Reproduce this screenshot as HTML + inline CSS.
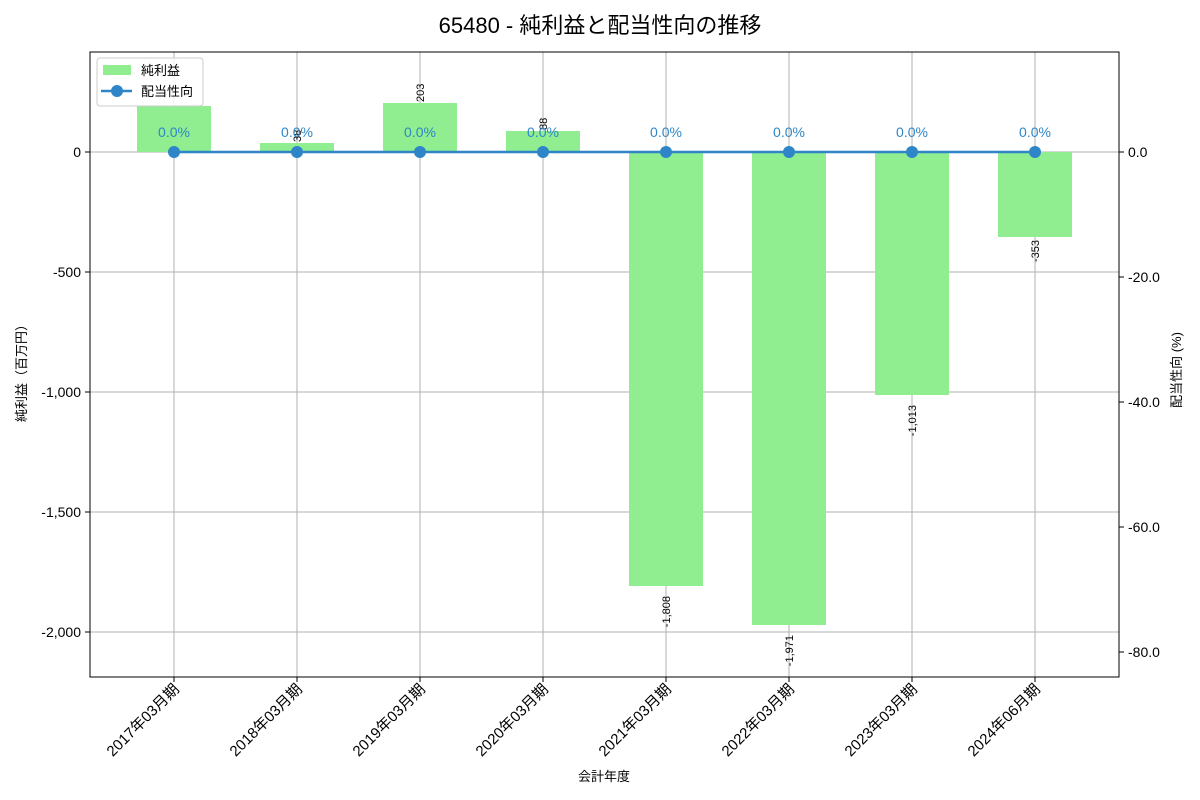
<!DOCTYPE html>
<html><head><meta charset="utf-8"><style>body{margin:0;background:#fff}svg{display:block;font-family:"Liberation Sans","Noto Sans CJK JP",sans-serif}</style></head><body>
<svg width="1200" height="800" xmlns="http://www.w3.org/2000/svg">
<text x="600" y="33" font-size="22" text-anchor="middle">65480 - 純利益と配当性向の推移</text>
<g stroke="#b0b0b0" stroke-width="1">
<line x1="174" y1="52" x2="174" y2="677"/><line x1="297" y1="52" x2="297" y2="677"/><line x1="420" y1="52" x2="420" y2="677"/><line x1="543" y1="52" x2="543" y2="677"/><line x1="666" y1="52" x2="666" y2="677"/><line x1="789" y1="52" x2="789" y2="677"/><line x1="912" y1="52" x2="912" y2="677"/><line x1="1035" y1="52" x2="1035" y2="677"/>
<line x1="90" y1="152" x2="1119" y2="152"/><line x1="90" y1="272" x2="1119" y2="272"/><line x1="90" y1="392" x2="1119" y2="392"/><line x1="90" y1="512" x2="1119" y2="512"/><line x1="90" y1="632" x2="1119" y2="632"/>
</g>
<g fill="#90ee90">
<rect x="137" y="106" width="74" height="46"/><rect x="260" y="143" width="74" height="9"/><rect x="383" y="103" width="74" height="49"/><rect x="506" y="131" width="74" height="21"/>
<rect x="629" y="152" width="74" height="434"/><rect x="752" y="152" width="74" height="473"/><rect x="875" y="152" width="74" height="243"/><rect x="998" y="152" width="74" height="85"/>
</g>
<g font-size="11" fill="#000">
<text transform="translate(301,142) rotate(-90)">38</text>
<text transform="translate(424,102) rotate(-90)">203</text>
<text transform="translate(547,130) rotate(-90)">88</text>
<text transform="translate(670,596) rotate(-90)" text-anchor="end">-1,808</text>
<text transform="translate(793,635) rotate(-90)" text-anchor="end">-1,971</text>
<text transform="translate(916,405) rotate(-90)" text-anchor="end">-1,013</text>
<text transform="translate(1039,240) rotate(-90)" text-anchor="end">-353</text>
</g>
<polyline points="174,152 1035,152" stroke="#2e86c8" stroke-width="2.5" fill="none"/>
<g fill="#2e86c8"><circle cx="174" cy="152" r="6"/><circle cx="297" cy="152" r="6"/><circle cx="420" cy="152" r="6"/><circle cx="543" cy="152" r="6"/><circle cx="666" cy="152" r="6"/><circle cx="789" cy="152" r="6"/><circle cx="912" cy="152" r="6"/><circle cx="1035" cy="152" r="6"/></g>
<g font-size="14" fill="#2e86c8" text-anchor="middle">
<text x="174" y="137">0.0%</text><text x="297" y="137">0.0%</text><text x="420" y="137">0.0%</text><text x="543" y="137">0.0%</text><text x="666" y="137">0.0%</text><text x="789" y="137">0.0%</text><text x="912" y="137">0.0%</text><text x="1035" y="137">0.0%</text>
</g>
<rect x="90" y="52" width="1029" height="625" fill="none" stroke="#000" stroke-width="1"/>
<g stroke="#000"><line x1="85" y1="152" x2="90" y2="152"/><line x1="85" y1="272" x2="90" y2="272"/><line x1="85" y1="392" x2="90" y2="392"/><line x1="85" y1="512" x2="90" y2="512"/><line x1="85" y1="632" x2="90" y2="632"/>
<line x1="1119" y1="152" x2="1124" y2="152"/><line x1="1119" y1="277" x2="1124" y2="277"/><line x1="1119" y1="402" x2="1124" y2="402"/><line x1="1119" y1="527" x2="1124" y2="527"/><line x1="1119" y1="652" x2="1124" y2="652"/>
<line x1="174" y1="677" x2="174" y2="682"/><line x1="297" y1="677" x2="297" y2="682"/><line x1="420" y1="677" x2="420" y2="682"/><line x1="543" y1="677" x2="543" y2="682"/><line x1="666" y1="677" x2="666" y2="682"/><line x1="789" y1="677" x2="789" y2="682"/><line x1="912" y1="677" x2="912" y2="682"/><line x1="1035" y1="677" x2="1035" y2="682"/></g>
<g font-size="14" text-anchor="end"><text x="81" y="157">0</text><text x="81" y="277">-500</text><text x="81" y="397">-1,000</text><text x="81" y="517">-1,500</text><text x="81" y="637">-2,000</text></g>
<g font-size="14"><text x="1128" y="157">0.0</text><text x="1128" y="282">-20.0</text><text x="1128" y="407">-40.0</text><text x="1128" y="532">-60.0</text><text x="1128" y="657">-80.0</text></g>
<g font-size="15" text-anchor="end">
<text transform="translate(180,690) rotate(-45)">2017年03月期</text><text transform="translate(303,690) rotate(-45)">2018年03月期</text><text transform="translate(426,690) rotate(-45)">2019年03月期</text><text transform="translate(549,690) rotate(-45)">2020年03月期</text><text transform="translate(672,690) rotate(-45)">2021年03月期</text><text transform="translate(795,690) rotate(-45)">2022年03月期</text><text transform="translate(918,690) rotate(-45)">2023年03月期</text><text transform="translate(1041,690) rotate(-45)">2024年06月期</text>
</g>
<text x="604" y="781" font-size="13" text-anchor="middle">会計年度</text>
<text transform="translate(26,370) rotate(-90)" font-size="13" text-anchor="middle">純利益（百万円）</text>
<text transform="translate(1181,370) rotate(-90)" font-size="13" text-anchor="middle">配当性向 (%)</text>
<rect x="97" y="58" width="106" height="48" rx="3" fill="#fff" fill-opacity="0.8" stroke="#ccc"/>
<rect x="103" y="65" width="28" height="10" fill="#90ee90"/>
<text x="141" y="75" font-size="13">純利益</text>
<line x1="101" y1="91" x2="132" y2="91" stroke="#2e86c8" stroke-width="2.5"/><circle cx="117" cy="91" r="6" fill="#2e86c8"/>
<text x="141" y="96" font-size="13">配当性向</text>
</svg>
</body></html>
